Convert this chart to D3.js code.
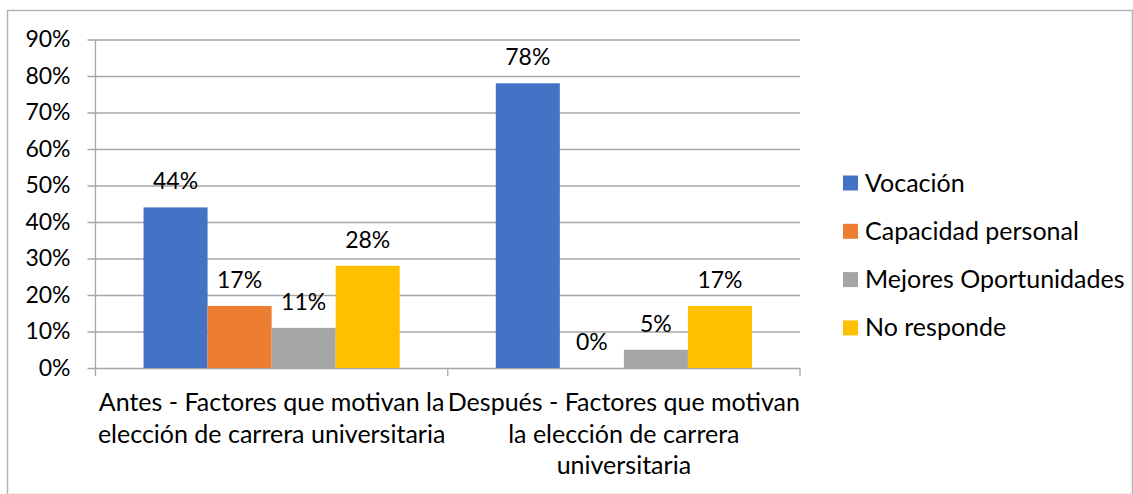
<!DOCTYPE html>
<html>
<head>
<meta charset="utf-8">
<script src="https://cdn.jsdelivr.net/npm/d3@7"></script>
<style>
  body { margin: 0; background: #fff; }
  svg text { font-family: Lato, "Open Sans", sans-serif; fill: #000; }
</style>
</head>
<body>
<svg width="1133" height="494"></svg>
<script>
// DATA
var categories = ["Antes", "Después"];
var categoryLines = [
  ["Antes - Factores que motivan la", "elección de carrera universitaria"],
  ["Después - Factores que motivan", "la elección de carrera", "universitaria"]
];
var seriesNames = ["Vocación", "Capacidad personal", "Mejores Oportunidades", "No responde"];
var seriesColors = ["#4472C4", "#ED7D31", "#A5A5A5", "#FFC000"];
var antesValues = [0.44, 0.17, 0.11, 0.28];
var despuesValues = [0.78, 0.00, 0.05, 0.17];
var yTicks = [0, 0.1, 0.2, 0.3, 0.4, 0.5, 0.6, 0.7, 0.8, 0.9];

var valuesByCategory = [antesValues, despuesValues];

var svg = d3.select("svg");

// chart frame
svg.append("rect")
    .attr("x", 7.5).attr("y", 10.5)
    .attr("width", 1125).attr("height", 484)
    .attr("fill", "#fff")
    .attr("stroke", "#b3b3b3")
    .attr("stroke-width", 1.5);

var plot = { left: 95.5, right: 800, top: 39.5, bottom: 368 };

var x0 = d3.scaleBand()
    .domain(categories)
    .range([plot.left, plot.right])
    .padding(0);

var x1 = d3.scaleBand()
    .domain(seriesNames)
    .range([0, x0.bandwidth()])
    .paddingInner(0)
    .paddingOuter(0.75);

var y = d3.scaleLinear()
    .domain([0, 0.9])
    .range([plot.bottom, plot.top]);

var fmt = d3.format(".0%");

// gridlines + y axis labels
var yAxis = d3.axisLeft(y)
    .tickValues(yTicks)
    .tickFormat(fmt)
    .tickSize(-(plot.right - plot.left + 8))
    .tickPadding(17);

var gy = svg.append("g")
    .attr("transform", "translate(" + (plot.left - 8) + ",0)")
    .call(yAxis);
gy.select(".domain").remove();
gy.selectAll(".tick line")
    .attr("stroke", "#a6a6a6")
    .attr("stroke-width", 1.3);
gy.selectAll(".tick text")
    .attr("font-size", 23)
    .attr("font-family", "Lato, sans-serif")
    .attr("fill", "#000");

// vertical axis line
svg.append("line")
    .attr("x1", plot.left).attr("x2", plot.left)
    .attr("y1", plot.top).attr("y2", plot.bottom + 8)
    .attr("stroke", "#a6a6a6").attr("stroke-width", 1.3);

// category tick marks
var catEdges = categories.map(function(c) { return x0(c); }).concat([plot.right]);
svg.append("g").selectAll("line")
    .data(catEdges.slice(1))
    .enter().append("line")
    .attr("x1", function(d) { return d; })
    .attr("x2", function(d) { return d; })
    .attr("y1", plot.bottom)
    .attr("y2", plot.bottom + 8)
    .attr("stroke", "#a6a6a6").attr("stroke-width", 1.3);

// bars
var groups = svg.append("g").selectAll("g")
    .data(categories)
    .enter().append("g")
    .attr("transform", function(c) { return "translate(" + x0(c) + ",0)"; });

groups.selectAll("rect")
    .data(function(c, i) {
      return valuesByCategory[i].map(function(v, j) { return { name: seriesNames[j], value: v, color: seriesColors[j] }; });
    })
    .enter().append("rect")
    .attr("x", function(d) { return x1(d.name); })
    .attr("width", x1.bandwidth())
    .attr("y", function(d) { return y(d.value); })
    .attr("height", function(d) { return y(0) - y(d.value); })
    .attr("fill", function(d) { return d.color; });

// value labels
groups.selectAll("text.val")
    .data(function(c, i) {
      return valuesByCategory[i].map(function(v, j) { return { name: seriesNames[j], value: v }; });
    })
    .enter().append("text")
    .attr("class", "val")
    .attr("x", function(d) { return x1(d.name) + x1.bandwidth() / 2; })
    .attr("y", function(d) { return y(d.value) - 18; })
    .attr("text-anchor", "middle")
    .attr("font-size", 23)
    .text(function(d) { return fmt(d.value); });

// category labels
var catLabels = svg.append("g").selectAll("text")
    .data(categories)
    .enter().append("text")
    .attr("text-anchor", "middle")
    .attr("font-size", 25)
    .attr("x", function(c) { return x0(c) + x0.bandwidth() / 2; })
    .attr("y", 411);

catLabels.selectAll("tspan")
    .data(function(c, i) { return categoryLines[i]; })
    .enter().append("tspan")
    .attr("x", function() { return this.parentNode.getAttribute("x"); })
    .attr("dy", function(d, i) { return i === 0 ? 0 : 31.5; })
    .text(function(d) { return d; });

// legend
var legend = svg.append("g").selectAll("g")
    .data(seriesNames)
    .enter().append("g")
    .attr("transform", function(d, i) { return "translate(843," + (183 + i * 48.3) + ")"; });

legend.append("rect")
    .attr("x", 0).attr("y", -7.5)
    .attr("width", 15).attr("height", 15)
    .attr("fill", function(d, i) { return seriesColors[i]; });

legend.append("text")
    .attr("x", 22)
    .attr("y", 8.5)
    .attr("font-size", 25)
    .text(function(d) { return d; });
</script>
</body>
</html>
